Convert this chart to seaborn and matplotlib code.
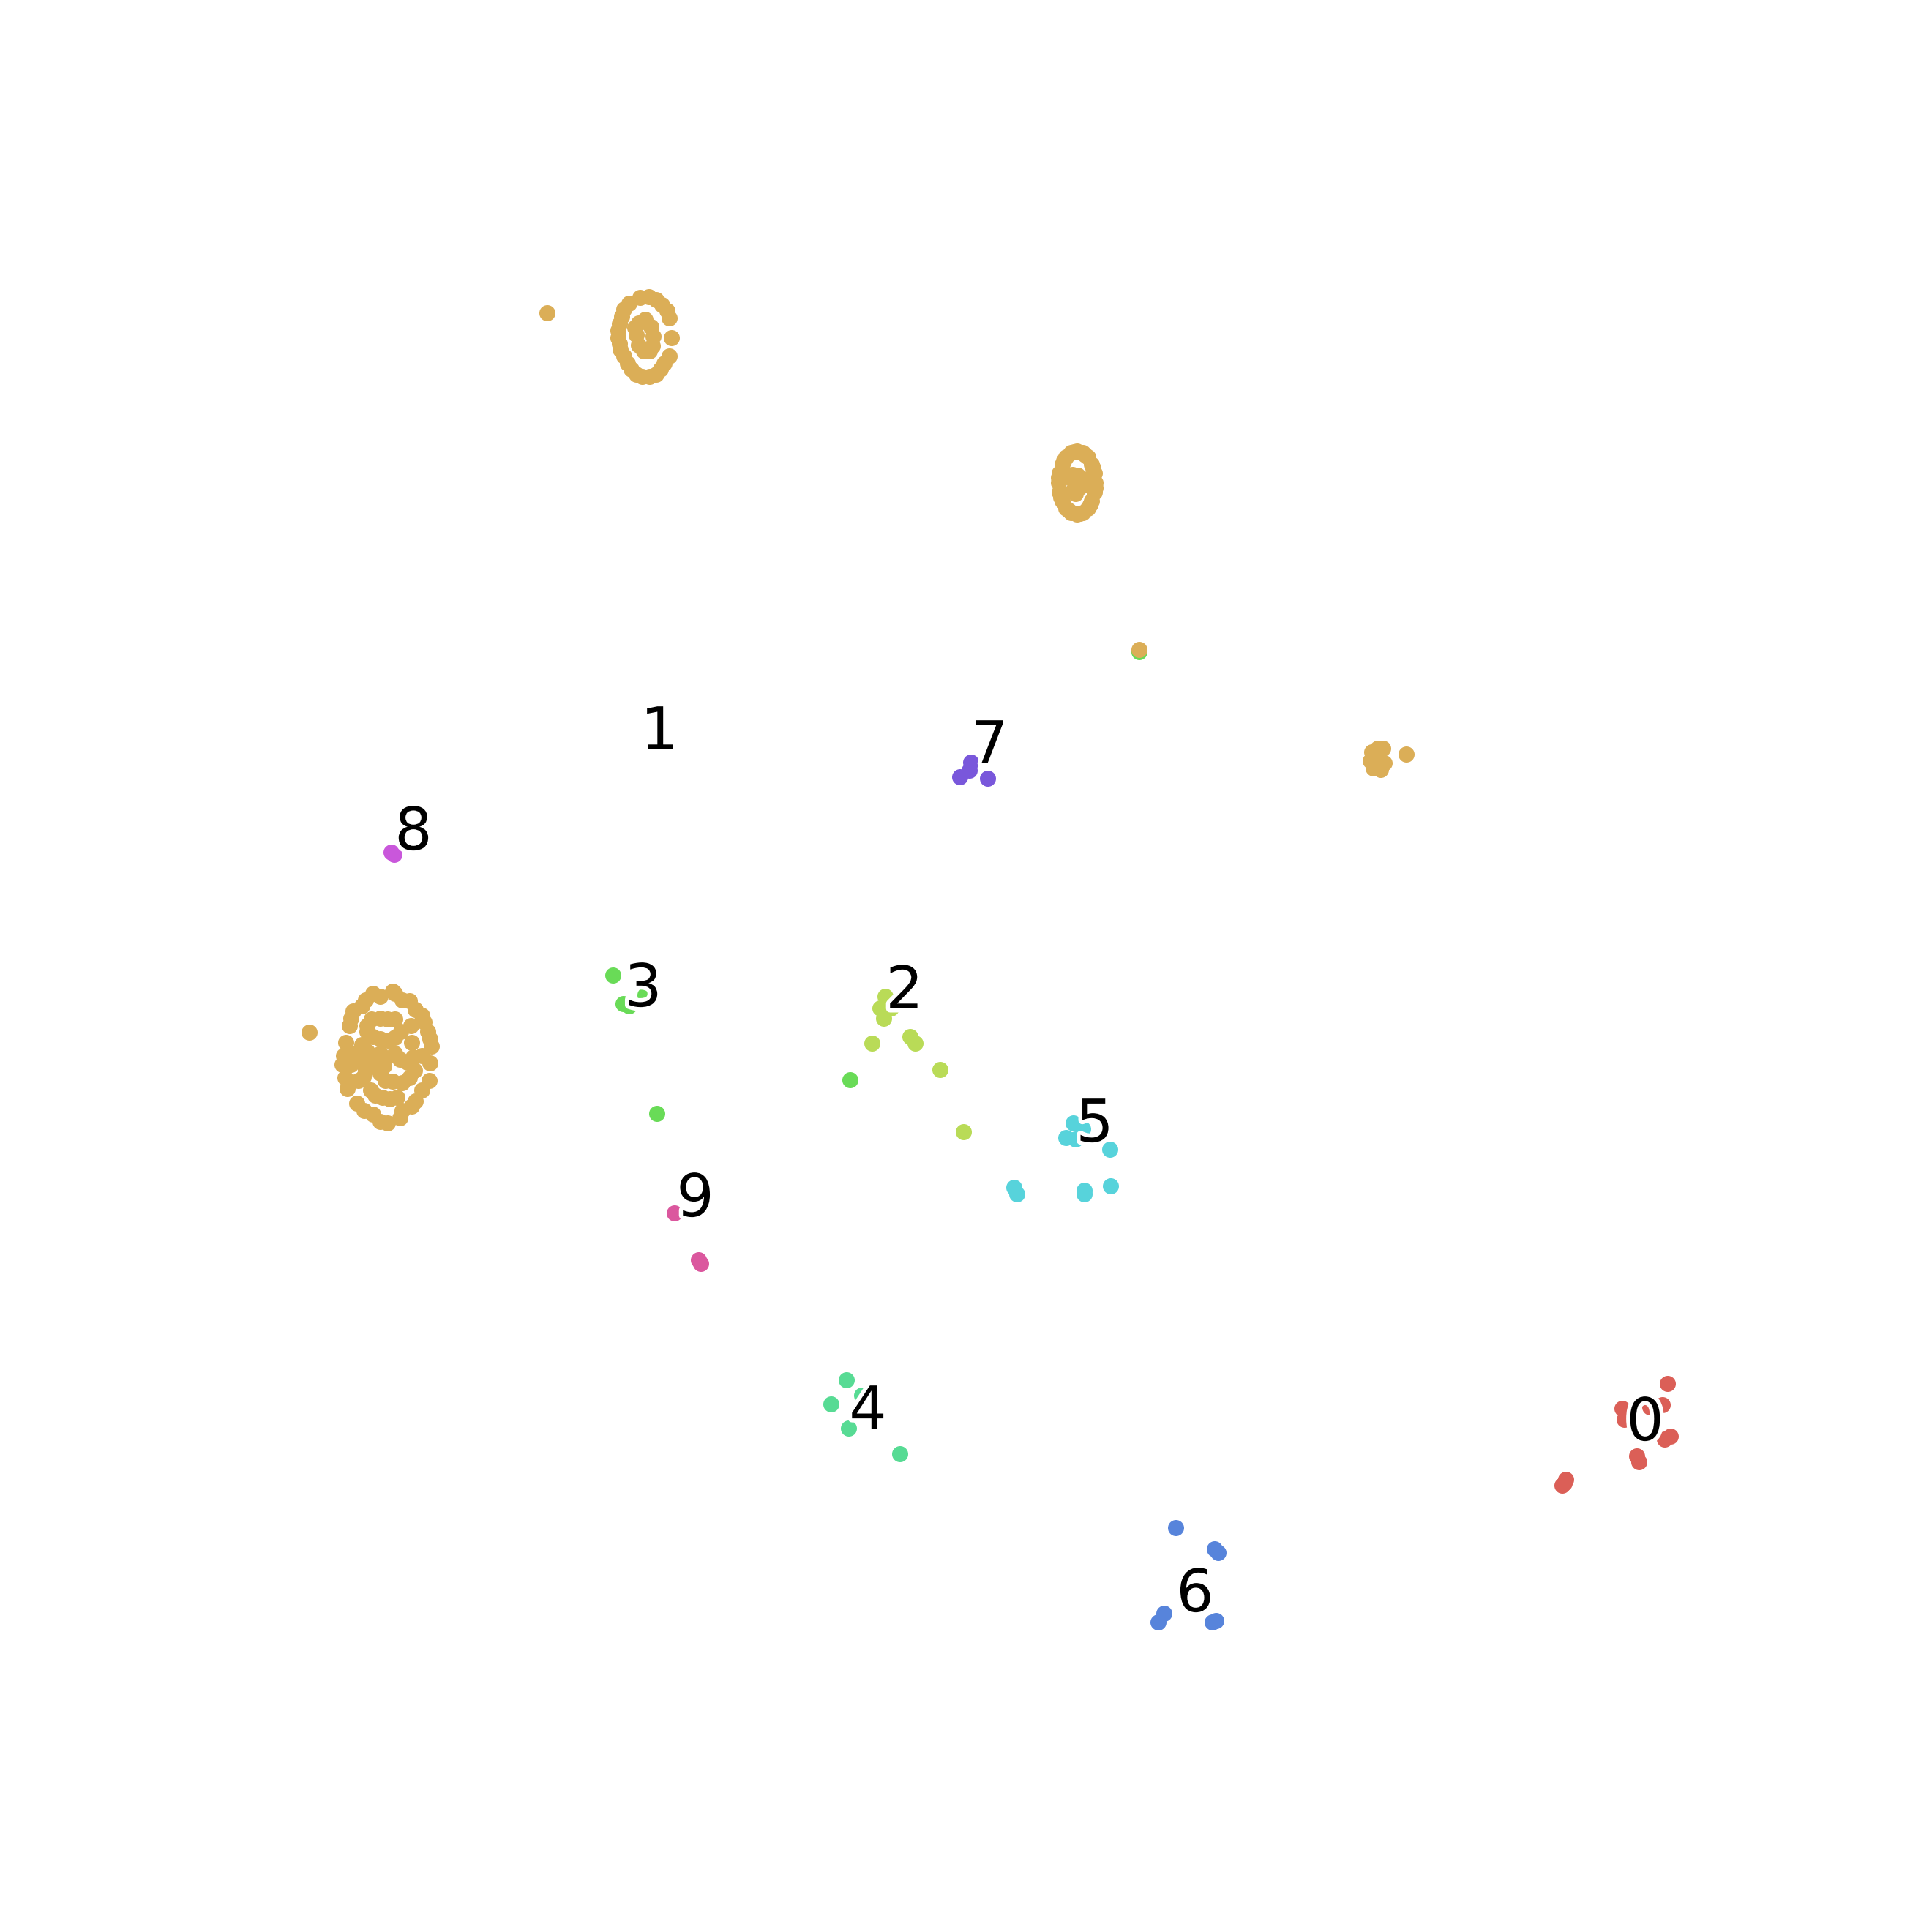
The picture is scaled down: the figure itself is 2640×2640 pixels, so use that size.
import numpy as np
import pandas as pd
import seaborn as sns
import matplotlib.pyplot as plt
import matplotlib.patheffects as PathEffects

sns.set_style("white")
plt.rcParams['font.family'] = ['DejaVu Sans']

# 2-d embedding of the digits (arbitrary units, y grows downwards)
x0 = [2279, 2217, 2220, 2255, 2272, 2275, 2283, 2237, 2240, 2140, 2135, 2138]
y0 = [1891, 1925, 1940, 1923, 1920, 1967, 1963, 1990, 1998, 2022, 2030, 2027]

x2 = [1210, 1203, 1208, 1218, 1192, 1244, 1251, 1285, 1317]
y2 = [1362, 1378, 1392, 1378, 1426, 1417, 1426, 1462, 1547]

x3 = [838, 852, 860, 882, 898, 1162, 1557]
y3 = [1333, 1372, 1375, 1360, 1522, 1476, 891]

x4 = [1157, 1136, 1160, 1230, 1178]
y4 = [1886, 1919, 1952, 1987, 1907]

x5 = [1467, 1457, 1470, 1480, 1517, 1386, 1390, 1482, 1482, 1518]
y5 = [1535, 1555, 1557, 1543, 1571, 1623, 1632, 1627, 1632, 1621]

x6 = [1607, 1660, 1665, 1591, 1583, 1657, 1662]
y6 = [2088, 2117, 2122, 2205, 2217, 2217, 2215]

x7 = [1327, 1325, 1312, 1350]
y7 = [1042, 1053, 1062, 1064]

x8 = [535, 539]
y8 = [1165, 1168]

x9 = [922, 955, 958]
y9 = [1658, 1722, 1727]

# digit 1 falls apart in several spiral shaped groups
x1_top = [875, 887, 897, 905, 912, 915, 860, 853, 850, 847, 845, 845, 847, 848, 853, 858, 863, 870,
          878, 888, 897, 903, 908, 915, 918, 882, 873, 868, 870, 890, 893, 873, 880, 888, 892, 748]
y1_top = [407, 406, 410, 417, 425, 435, 415, 423, 433, 443, 452, 462, 470, 478, 487, 497, 505, 512,
          515, 515, 512, 505, 497, 487, 462, 437, 442, 448, 458, 447, 460, 472, 480, 480, 473, 428]

x1_mid = [1497, 1496, 1492, 1487, 1480, 1472, 1464, 1457, 1452, 1448, 1447, 1448, 1452, 1457,
          1464, 1472, 1480, 1487, 1492, 1496, 1497, 1490, 1476, 1461, 1450, 1447, 1454, 1468,
          1483, 1494, 1459, 1466, 1473, 1481, 1483, 1475, 1467, 1470]
y1_mid = [660, 673, 685, 695, 701, 703, 701, 695, 685, 673, 660, 647, 635, 625,
          619, 617, 619, 625, 635, 647, 667, 690, 702, 698, 680, 653, 630, 618,
          622, 640, 652, 649, 650, 655, 663, 667, 670, 675]

x1_left = [537, 520, 510, 500, 495, 483, 480, 478, 473, 470, 468, 472, 475, 488, 498, 510, 520,
           530, 547, 550, 550, 560, 568, 577, 580, 585, 588, 590, 588, 587, 577, 568, 563, 540,
           508, 520, 530, 540, 562, 502, 502, 510, 520, 530, 540, 548, 495, 502, 493, 498, 512,
           520, 527, 540, 547, 557, 565, 577, 563, 525, 517, 507, 500, 497, 490, 520, 527, 537,
           550, 560, 567, 507, 513, 523, 533, 543, 485, 480, 423]
y1_left = [1355, 1362, 1358, 1367, 1375, 1382, 1392, 1402, 1425, 1443, 1455, 1473, 1488, 1508,
           1518, 1523, 1533, 1535, 1528, 1518, 1367, 1368, 1380, 1388, 1397, 1410, 1420, 1430,
           1453, 1477, 1490, 1505, 1512, 1358, 1393, 1392, 1393, 1393, 1402, 1402, 1410, 1417,
           1420, 1422, 1418, 1410, 1428, 1437, 1447, 1455, 1443, 1440, 1447, 1440, 1448, 1452,
           1445, 1443, 1425, 1457, 1457, 1457, 1463, 1472, 1477, 1467, 1477, 1478, 1480, 1473,
           1463, 1490, 1497, 1500, 1502, 1500, 1440, 1455, 1411]

x1_right = [1883, 1890, 1875, 1873, 1877, 1887, 1892, 1878, 1922, 1557]
y1_right = [1023, 1023, 1028, 1040, 1050, 1052, 1043, 1033, 1031, 888]

# label positions (centre x, baseline y)
label_x = [2248, 901, 1236, 879, 1186, 1496, 1633, 1352, 565, 950]
label_y = [1968, 1024, 1378, 1375, 1952, 1560, 2202, 1043, 1161, 1662]

x1 = x1_top + x1_mid + x1_left + x1_right
y1 = y1_top + y1_mid + y1_left + y1_right

xs = {0: x0, 1: x1, 2: x2, 3: x3, 4: x4, 5: x5, 6: x6, 7: x7, 8: x8, 9: x9}
ys = {0: y0, 1: y1, 2: y2, 3: y3, 4: y4, 5: y5, 6: y6, 7: y7, 8: y8, 9: y9}

# digit 1 goes last so it is drawn on top
order = [0, 2, 3, 4, 5, 6, 7, 8, 9, 1]
df = pd.concat([pd.DataFrame({'x': xs[d], 'y': ys[d], 'digit': d}) for d in order],
               ignore_index=True)

palette = dict(zip(range(10), sns.color_palette("hls", 10)))

fig = plt.figure(figsize=(10, 10))
ax = fig.add_axes([0, 0, 1, 1])
sns.scatterplot(data=df, x='x', y='y', hue='digit', palette=palette, s=36,
                linewidth=0, legend=False, ax=ax)
ax.set_xlim(0, 2640)
ax.set_ylim(2640, 0)
ax.axis('off')

for i in range(10):
    txt = ax.text(label_x[i], label_y[i], str(i), fontsize=22, color='black',
                  ha='center', va='baseline')
    txt.set_path_effects([PathEffects.Stroke(linewidth=3, foreground='w'), PathEffects.Normal()])

plt.savefig('out.png', dpi=264, facecolor='white')
